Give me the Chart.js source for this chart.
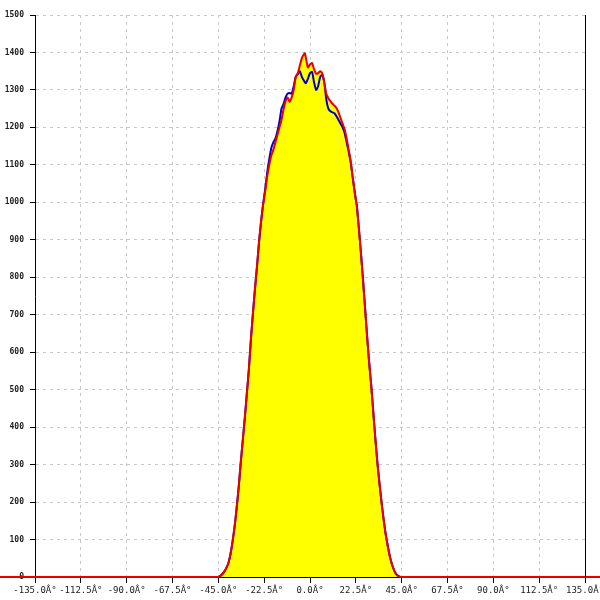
<!DOCTYPE html>
<html>
<head>
<meta charset="utf-8">
<script src="https://cdn.jsdelivr.net/npm/chart.js@4/dist/chart.umd.min.js"></script>
<style>
  html, body { margin: 0; padding: 0; background: #fff; }
  #wrap { width: 600px; height: 600px; }
</style>
</head>
<body>
<div id="wrap"><canvas id="chart" width="600" height="600"></canvas></div>
<script>
// angles in degrees
const angles = [
  -152.5, -46, -45, -44, -43, -42, -41, -40, -39, -38, -37, -36, -35, -34, -33, -32, -31, -30,
  -29, -28, -27, -26, -25, -24, -23, -22, -21, -20, -19, -18, -17, -16, -15, -14, -13, -12,
  -11, -10, -9, -8, -7, -6, -5, -4, -3, -2.5, -2, -1, 0, 1, 2, 3, 4, 5, 6, 7, 8, 9, 10,
  11, 12, 13, 14, 15, 16, 17, 18, 19, 20, 21, 22, 23, 24, 25, 26, 27, 28, 29, 30,
  31, 32, 33, 34, 35, 36, 37, 38, 39, 40, 41, 42, 43, 44, 45, 46, 142.5
];

const blueValues = [
  0, 0, 0, 3, 8, 15, 25, 38, 62, 95, 135, 185, 240, 305, 365, 425, 490, 555,
  635, 705, 770, 830, 895, 950, 995, 1035, 1080, 1115, 1145, 1160, 1170, 1190, 1215, 1250, 1262, 1280,
  1290, 1292, 1290, 1310, 1335, 1342, 1350, 1335, 1325, 1320, 1318, 1330, 1345, 1348, 1320, 1300, 1310, 1335, 1340, 1320, 1275, 1250, 1243,
  1240, 1238, 1230, 1220, 1210, 1200, 1185, 1160, 1135, 1105, 1065, 1025, 990, 930, 865, 795, 720, 645, 575, 515,
  445, 375, 310, 255, 205, 160, 120, 88, 60, 38, 22, 10, 4, 1, 0, 0, 0
];

const redValues = [
  0, 0, 0, 3, 8, 15, 25, 38, 62, 95, 135, 185, 240, 305, 365, 425, 490, 555,
  635, 705, 770, 830, 895, 950, 995, 1030, 1070, 1100, 1125, 1140, 1160, 1180, 1200, 1220, 1248, 1270,
  1280, 1268, 1280, 1300, 1335, 1345, 1365, 1385, 1395, 1398, 1385, 1360, 1368, 1372, 1355, 1343, 1345, 1350, 1345, 1320, 1290, 1278, 1270,
  1263, 1258, 1252, 1240, 1225, 1210, 1195, 1170, 1140, 1110, 1065, 1025, 990, 930, 865, 795, 720, 645, 575, 515,
  445, 375, 310, 255, 205, 160, 120, 88, 60, 38, 22, 10, 4, 1, 0, 0, 0
];

const xMin = -135, xMax = 135, xStep = 22.5;
const yMin = 0, yMax = 1500, yStep = 100;

const toPoints = vals => angles.map((a, i) => ({ x: a, y: vals[i] }));

// right edge of the plot is a solid dark line
const rightEdge = {
  id: 'rightEdge',
  afterDraw(chart) {
    const { ctx, chartArea } = chart;
    ctx.save();
    ctx.strokeStyle = '#000';
    ctx.lineWidth = 1;
    ctx.beginPath();
    ctx.moveTo(Math.round(chartArea.right) + 0.5, chartArea.top);
    ctx.lineTo(Math.round(chartArea.right) + 0.5, chartArea.bottom);
    ctx.stroke();
    ctx.restore();
  }
};

new Chart(document.getElementById('chart').getContext('2d'), {
  type: 'line',
  data: {
    datasets: [
      {
        label: 'red',
        data: toPoints(redValues),
        borderColor: '#e60000',
        backgroundColor: '#ffff00',
        borderWidth: 2,
        fill: 'origin',
        pointRadius: 0,
        tension: 0.2,
        clip: false
      },
      {
        label: 'blue',
        data: toPoints(blueValues),
        borderColor: '#0000c8',
        borderWidth: 2,
        fill: false,
        pointRadius: 0,
        tension: 0.2,
        clip: false
      }
    ]
  },
  options: {
    responsive: false,
    animation: false,
    layout: { padding: { top: 15, right: 15, left: 0, bottom: 0 } },
    plugins: {
      legend: { display: false },
      tooltip: { enabled: false },
      filler: { drawTime: 'beforeDatasetsDraw' }
    },
    scales: {
      x: {
        type: 'linear',
        min: xMin,
        max: xMax,
        afterFit: s => { s.height = 23; s.paddingLeft = 0; s.paddingRight = 0; },
        ticks: {
          stepSize: xStep,
          maxRotation: 0,
          autoSkip: false,
          padding: 2,
          color: '#222',
          font: { family: 'DejaVu Sans Mono', size: 9 },
          callback: v => v.toFixed(1) + 'Â°'
        },
        grid: { color: '#c8c8c8', tickColor: '#000', tickLength: 6 },
        border: { color: '#000', width: 1, dash: [3, 4] }
      },
      y: {
        min: yMin,
        max: yMax,
        afterFit: s => { s.width = 35; s.paddingTop = 0; s.paddingBottom = 0; },
        ticks: {
          stepSize: yStep,
          padding: 6,
          color: '#222',
          font: { family: 'DejaVu Sans Mono', size: 8, weight: 'bold' },
          callback: v => String(v)
        },
        grid: { color: '#c8c8c8', tickColor: '#000', tickLength: 5 },
        border: { color: '#000', width: 1, dash: [3, 4] }
      }
    }
  },
  plugins: [rightEdge]
});
</script>
</body>
</html>
